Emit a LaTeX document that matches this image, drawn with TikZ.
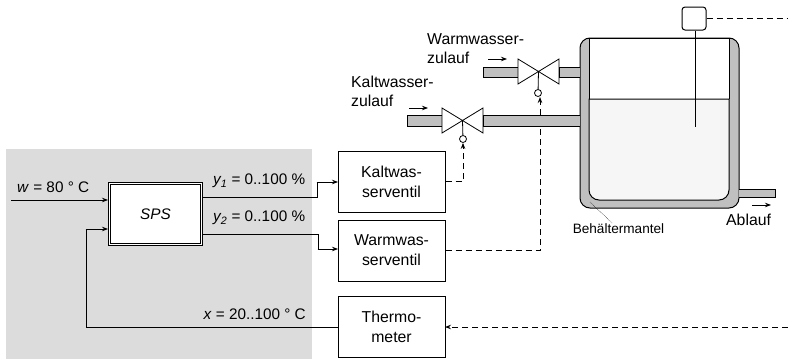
\documentclass[tikz,border=0pt]{standalone}
\usepackage{fontspec}
\setmainfont{Liberation Sans}
\usetikzlibrary{arrows.meta}
\definecolor{hgrau}{HTML}{DCDCDC}
\definecolor{mantel}{HTML}{C0C0C0}
\definecolor{wasser}{HTML}{F6F6F6}
\tikzset{
  pfeil/.style={-{Stealth[length=6pt,width=4.5pt]}, line width=0.8pt},
  signal/.style={line width=1pt},
  steuer/.style={-{Stealth[length=6pt,width=4.5pt]}, line width=0.8pt, dash pattern=on 6pt off 4pt},
  kasten/.style={draw, line width=1pt, fill=white, minimum width=107pt, minimum height=61pt, inner sep=0pt, align=center, font=\fontsize{15.8}{20}\selectfont},
  txt/.style={inner sep=0pt, align=left, font=\fontsize{15.3}{19}\selectfont},
  rohr/.style={draw, line width=0.8pt, fill=mantel},
  antrieb/.style={draw, circle, line width=0.8pt, fill=white, minimum size=7pt, inner sep=0pt}
}
\begin{document}
\begin{tikzpicture}[x=1pt, y=-1pt]
    \useasboundingbox (0,0) rectangle (788,359);
    % Grey controller area
    \fill[hgrau] (6,149) rectangle (312,359);

    % Controller and boxes
    \node[draw, double, double distance=1.4pt, line width=0.7pt, fill=white, minimum width=92pt, minimum height=61pt, inner sep=0pt, font=\fontsize{15.3}{19}\selectfont\itshape] (sps) at (155.5,214) {SPS};
    \node[kasten] (kventil) at (391.5,181.5) {Kaltwas-\\serventil};
    \node[kasten] (wventil) at (391.5,250.5) {Warmwas-\\serventil};
    \node[kasten] (thermo) at (391.5,326.5) {Thermo-\\meter};

    % Tank with jacket
    \draw[line width=1pt, fill=mantel, rounded corners=10pt] (580,38) rectangle (739,208);
    \fill[white] (589,38) rectangle (729,99);
    \draw[line width=1pt, fill=wasser] (589,99) [rounded corners=10pt] -- (589,200) -- (729,200) [sharp corners] -- (729,99) -- cycle;
    \draw[line width=1pt] (589,99) -- (589,38) -- (729,38) -- (729,99);

    % Pipes
    \path[rohr] (518,67) -- (483,67) -- (483,77) -- (518,77);
    \path[rohr] (580,67) -- (559,67) -- (559,77) -- (580,77);
    \path[rohr] (442,115) -- (407,115) -- (407,126) -- (442,126);
    \path[rohr] (739,189) -- (775,189) -- (775,197) -- (739,197);

    % Valves
    \draw[line width=0.8pt] (518,59) -- (559,84) -- (559,59) -- (518,84) -- cycle;
    \draw[line width=0.8pt] (442,108) -- (483,133) -- (483,108) -- (442,133) -- cycle;
    \coordinate (wmitte) at (538.5,71.5);
    \coordinate (kmitte) at (462.5,120.5);
    \node[antrieb] (wantrieb) at (538,93) {};
    \node[antrieb] (kantrieb) at (463,139) {};
    \draw[line width=0.8pt] (wmitte) -- (wantrieb);
    \draw[line width=0.8pt] (kmitte) -- (kantrieb);

    % Sensor
    \node[draw, line width=1pt, fill=white, rounded corners=3pt, minimum width=24pt, minimum height=23pt, inner sep=0pt] (sensor) at (694,18.5) {};
    \coordinate (fuehler) at (695,127);
    \draw[line width=0.8pt] (sensor.south -| fuehler) -- (fuehler);

    % Signals in grey area
    \coordinate (wein) at (11,200);
    \coordinate (spsw) at (108,200);
    \coordinate (spsx) at (108,229);
    \coordinate (spsa) at (203,197);
    \coordinate (spsb) at (203,234);
    \coordinate (kein) at (338,182);
    \coordinate (wein2) at (338,249);
    \coordinate (tein) at (445,327);
    \coordinate (taus) at (338,327);
    \draw[pfeil] (wein) -- (spsw);
    \draw[signal] (spsa) -- (317,197) -- (317,182);
    \draw[pfeil] (316.6,182) -- (kein);
    \draw[signal] (spsb) -- (318,234) -- (318,249);
    \draw[pfeil] (317.6,249) -- (wein2);
    \draw[signal] (taus) -- (86,327) -- (86,229);
    \draw[pfeil] (85.6,229) -- (spsx);

    % Dashed control lines
    \draw[steuer] (kventil.east) -- (kantrieb.south |- kventil.east) -- (kantrieb.south);
    \draw[steuer] (wventil.east) -- (540,250.5) -- (540,97);
    \coordinate (rechtso) at (788,18.5);
    \coordinate (rechtsu) at (788,327);
    \draw[line width=0.8pt, dash pattern=on 6pt off 4pt] (sensor.east) -- (rechtso);
    \draw[steuer] (rechtsu) -- (tein);

    % Cold pipe passes over the dashed line
    \path[rohr] (580,115) -- (483,115) -- (483,126) -- (580,126);

    % Flow arrows
    \draw[pfeil] (488,59) -- (507,59);
    \draw[pfeil] (409,108) -- (428,108);
    \draw[pfeil] (752,205) -- (771,205);

    % Labels
    \node[txt, anchor=west] (lw) at (17,187) {\textit{w} = 80 ° C};
    \node[txt, anchor=west] (ly1) at (213,181) {\textit{y\textsubscript{1}} = 0..100 \%};
    \node[txt, anchor=west] (ly2) at (213,218) {\textit{y\textsubscript{2}} = 0..100 \%};
    \node[txt, anchor=east] (lx) at (306,314) {\textit{x} = 20..100 ° C};
    \node[txt, anchor=north west, font=\fontsize{15.8}{19}\selectfont] (lwarm) at (427,33) {Warmwasser-\\zulauf};
    \node[txt, anchor=north west, font=\fontsize{15.8}{19}\selectfont] (lkalt) at (351,76) {Kaltwasser-\\zulauf};
    \node[txt, anchor=west, font=\fontsize{15.8}{19}\selectfont] (lab) at (726,220) {Ablauf};
    \node[inner sep=0pt, font=\fontsize{13.6}{16}\selectfont] (lmantel) at (618.5,229) {Behältermantel};
    \coordinate (mpunkt) at (590,202);
    \draw[line width=0.5pt, densely dotted] (mpunkt) -- (612,223);
\end{tikzpicture}
\end{document}
